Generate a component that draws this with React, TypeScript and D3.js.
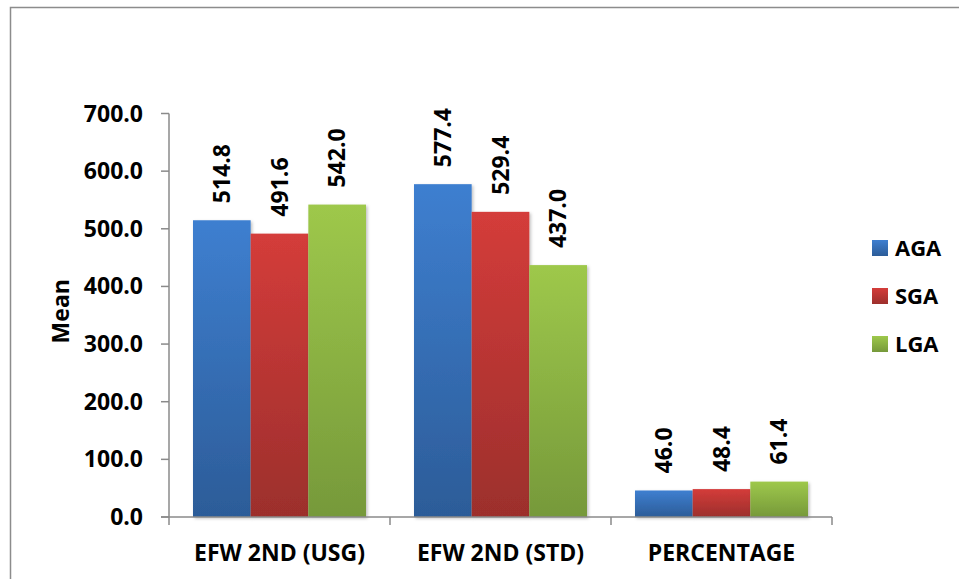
import React from "react";
import * as d3 from "d3";

const categories = ["EFW 2ND (USG)", "EFW 2ND (STD)", "PERCENTAGE"];
const seriesNames = ["AGA", "SGA", "LGA"];
const AGA = [514.8, 577.4, 46.0];
const SGA = [491.6, 529.4, 48.4];
const LGA = [542.0, 437.0, 61.4];
const yTicks = [0, 100, 200, 300, 400, 500, 600, 700];
const seriesValues = [AGA, SGA, LGA];
const colorsTop = ["#3e7fd0", "#d43c3a", "#9ec84b"];
const colorsBottom = ["#2c5c98", "#9c2f2c", "#76993a"];

const W = 959;
const H = 579;
const FONT = "'Open Sans', sans-serif";

export default function App() {
  const left = 169;
  const right = 832;
  const top = 113.5;
  const bottom = 517;
  const x0 = d3.scaleBand<string>().domain(categories).range([left, right]).paddingInner(0).paddingOuter(0);
  const innerPad = (x0.bandwidth() - 173) / 2;
  const x1 = d3
    .scaleBand<string>()
    .domain(seriesNames)
    .range([innerPad, x0.bandwidth() - innerPad])
    .padding(0);
  const y = d3.scaleLinear().domain([0, 700]).range([bottom, top]);
  const axisColor = "#8a8a8a";

  return (
    <svg width={W} height={H} style={{ position: "absolute", left: 0, top: 0 }} fontFamily={FONT}>
      <defs>
        {seriesNames.map((s, i) => (
          <linearGradient key={s} id={`g${i}`} x1="0" y1="0" x2="0" y2="1">
            <stop offset="0%" stopColor={colorsTop[i]} />
            <stop offset="100%" stopColor={colorsBottom[i]} />
          </linearGradient>
        ))}
        <filter id="shadow" x="-10%" y="-10%" width="130%" height="130%">
          <feDropShadow dx="1.5" dy="1.5" stdDeviation="1.5" floodColor="#000" floodOpacity="0.25" />
        </filter>
      </defs>
      <rect x={0} y={0} width={W} height={H} fill="#fff" />
      <rect x={10.5} y={7.5} width={980} height={620} fill="none" stroke="#8c8c8c" strokeWidth={1.5} />

      {/* bars */}
      {categories.map((c, ci) =>
        seriesNames.map((s, si) => {
          const v = seriesValues[si][ci];
          const bx = (x0(c) as number) + (x1(s) as number);
          return (
            <rect
              key={c + s}
              x={bx}
              y={y(v)}
              width={x1.bandwidth()}
              height={bottom - y(v)}
              fill={`url(#g${si})`}
              filter="url(#shadow)"
            />
          );
        })
      )}

      {/* value labels */}
      {categories.map((c, ci) =>
        seriesNames.map((s, si) => {
          const v = seriesValues[si][ci];
          const cx = (x0(c) as number) + (x1(s) as number) + x1.bandwidth() / 2;
          const ly = y(v) - 17;
          return (
            <text
              key={"l" + c + s}
              transform={`translate(${cx + 8},${ly}) rotate(-90)`}
              fontSize={23}
              fontWeight="bold"
              fill="#000"
              textAnchor="start"
            >
              {v.toFixed(1)}
            </text>
          );
        })
      )}

      {/* y axis */}
      <line x1={left} x2={left} y1={top} y2={bottom} stroke={axisColor} strokeWidth={1.5} />
      {yTicks.map((t) => (
        <g key={t}>
          <line x1={left - 8} x2={left} y1={y(t)} y2={y(t)} stroke={axisColor} strokeWidth={1.5} />
          <text x={left - 26} y={y(t)} dy="0.35em" textAnchor="end" fontSize={23} fontWeight="bold" fill="#000">
            {t.toFixed(1)}
          </text>
        </g>
      ))}

      {/* x axis */}
      <line x1={left - 8} x2={right} y1={bottom} y2={bottom} stroke={axisColor} strokeWidth={1.5} />
      {[...categories.map((c) => x0(c) as number), right].map((px, i) => (
        <line key={i} x1={px} x2={px} y1={bottom} y2={bottom + 8} stroke={axisColor} strokeWidth={1.5} />
      ))}
      {categories.map((c) => (
        <text
          key={c}
          x={(x0(c) as number) + x0.bandwidth() / 2}
          y={561}
          textAnchor="middle"
          fontSize={23}
          fontWeight="bold"
          fill="#000"
        >
          {c}
        </text>
      ))}

      {/* y title */}
      <text
        transform={`translate(69,${(top + bottom) / 2 - 4}) rotate(-90)`}
        textAnchor="middle"
        fontSize={23}
        fontWeight="bold"
        fill="#000"
      >
        Mean
      </text>

      {/* legend */}
      {seriesNames.map((s, i) => {
        const ly = 248 + i * 48;
        return (
          <g key={s}>
            <rect x={872} y={ly - 8} width={16} height={16} fill={`url(#g${i})`} />
            <text x={895} y={ly} dy="0.36em" fontSize={22} fontWeight="bold" fill="#000">
              {s}
            </text>
          </g>
        );
      })}
    </svg>
  );
}
